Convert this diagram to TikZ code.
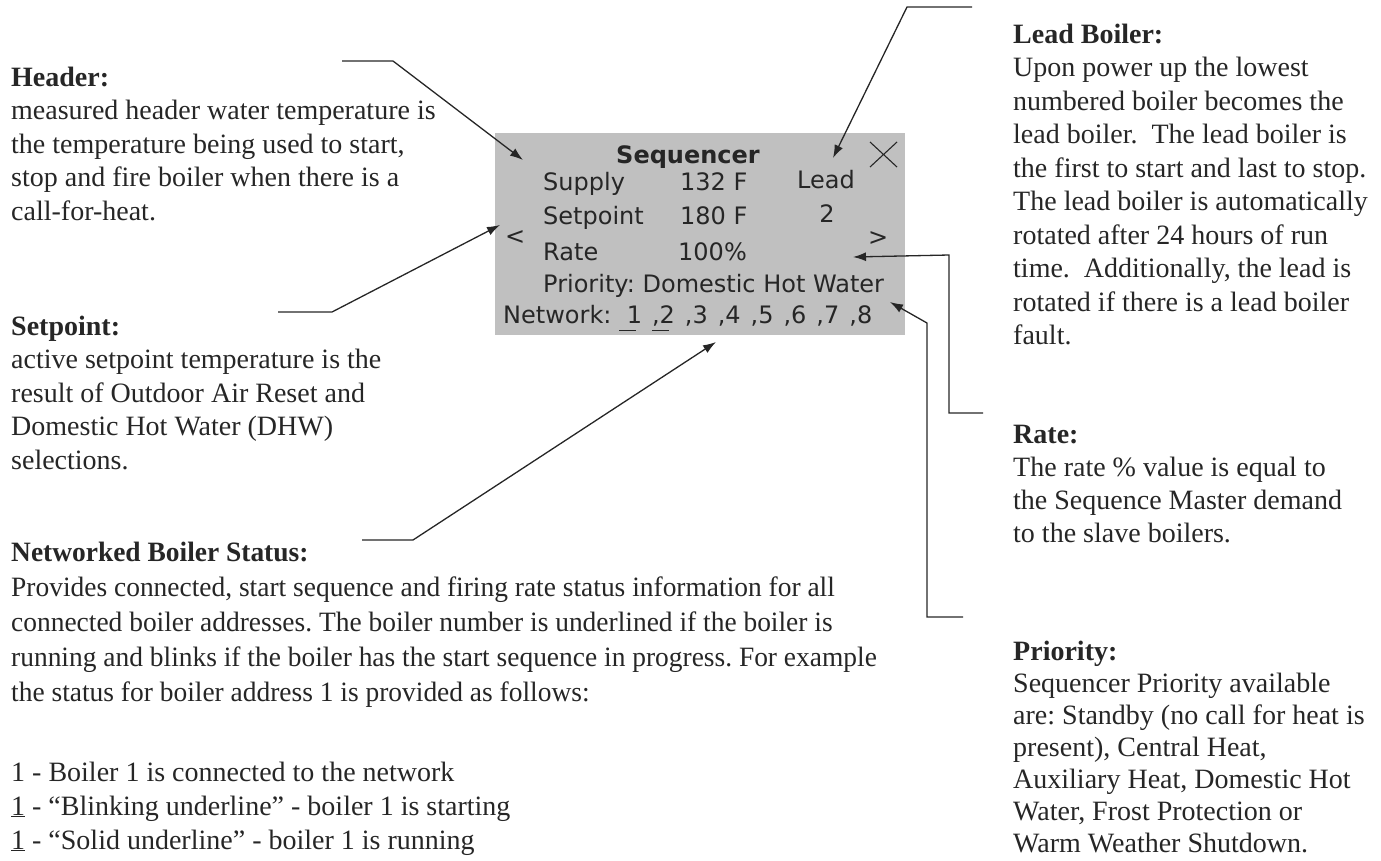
\documentclass[tikz,border=0pt]{standalone}
\usepackage{fontspec}
\setmainfont{Liberation Serif}
\newfontfamily\lcdfont{DejaVu Sans}
\newfontfamily\statusfont[FakeStretch=0.98]{Liberation Serif}
\usetikzlibrary{arrows.meta}
\definecolor{lcdgray}{HTML}{C0C0C0}
\definecolor{ink}{HTML}{262626}
\newcommand\lcdmark{\rlap{\rule[-8pt]{17pt}{1.5pt}}}
\newcommand\lcdgap{\hspace{10pt}}
\frenchspacing
\tikzset{
  note/.style={anchor=north west, inner sep=0pt, align=left, text=ink,
    font=\fontsize{28}{33.5}\selectfont},
  lcd/.style={anchor=base west, inner sep=0pt, text=ink,
    font=\lcdfont\fontsize{24}{28}\selectfont},
  callout/.style={draw=ink, line width=1.3pt, -{Latex[length=13pt,width=9pt]}},
}
\begin{document}
\begin{tikzpicture}[x=1pt,y=-1pt]
    \useasboundingbox (0,0) rectangle (1381,860);
    % Display panel
    \fill[lcdgray] (495,133) rectangle (905,335);
    \node[lcd, anchor=base, font=\lcdfont\bfseries\fontsize{24}{28}\selectfont] (title) at (688,163) {Sequencer};
    \node[lcd] (supply) at (543,190) {Supply};
    \node[lcd] (supplyval) at (680,190) {132 F};
    \node[lcd] (setpt) at (543,224) {Setpoint};
    \node[lcd] (setptval) at (680,224) {180 F};
    \node[lcd] (rate) at (543,260) {Rate};
    \node[lcd] (rateval) at (678,260) {100\%};
    \node[lcd] (prio) at (543,292) {Priority: Domestic Hot Water};
    \node[lcd] (net) at (503,323) {Network:\ \lcdmark\ 1\lcdgap\lcdmark,2\lcdgap,3\lcdgap,4\lcdgap,5\lcdgap,6\lcdgap,7\lcdgap,8};
    \node[lcd, anchor=base] (lead) at (826,188) {Lead};
    \node[lcd, anchor=base] (leadno) at (827,222) {2};
    \node[lcd] (prev) at (505,244) {<};
    \node[lcd] (next) at (868,245) {>};
    % Close button
    \draw[ink, line width=1.1pt] (870,142) -- (897,167) (870,167) -- (897,142);

    % Notes, left column
    \node[note] (header) at (11,62.5) {\strut\textbf{Header:}\\
      measured header water temperature is\\
      the temperature being used to start,\\
      stop and fire boiler when there is a\\
      call-for-heat.};
    \node[note] (setnote) at (11,311.5) {\strut\textbf{Setpoint:}\\
      active setpoint temperature is the\\
      result of Outdoor Air Reset and\\
      Domestic Hot Water (DHW)\\
      selections.};
    \node[note, font=\statusfont\fontsize{28}{35}\selectfont] (status) at (11,536.5) {\strut\textbf{Networked Boiler Status:}\\
      Provides connected, start sequence and firing rate status information for all\\
      connected boiler addresses. The boiler number is underlined if the boiler is\\
      running and blinks if the boiler has the start sequence in progress. For example\\
      the status for boiler address 1 is provided as follows:};
    \node[note, font=\fontsize{28}{34}\selectfont] (legend) at (11,757) {\strut 1 - Boiler 1 is connected to the network\\
      \underline{1} - “Blinking underline” - boiler 1 is starting\\
      \underline{1} - “Solid underline” - boiler 1 is running};

    % Notes, right column
    \node[note] (leadnote) at (1013,19.5) {\strut\textbf{Lead Boiler:}\\
      Upon power up the lowest\\
      numbered boiler becomes the\\
      lead boiler.~ The lead boiler is\\
      the first to start and last to stop.\\
      The lead boiler is automatically\\
      rotated after 24 hours of run\\
      time.~ Additionally, the lead is\\
      rotated if there is a lead boiler\\
      fault.};
    \node[note, font=\fontsize{28}{33}\selectfont] (ratenote) at (1013,420) {\strut\textbf{Rate:}\\
      The rate \% value is equal to\\
      the Sequence Master demand\\
      to the slave boilers.};
    \node[note, font=\fontsize{28}{32}\selectfont] (prionote) at (1013,637.6) {\strut\textbf{Priority:}\\
      Sequencer Priority available\\
      are: Standby (no call for heat is\\
      present), Central Heat,\\
      Auxiliary Heat, Domestic Hot\\
      Water, Frost Protection or\\
      Warm Weather Shutdown.};

    % Callouts
    \coordinate (hdr-a) at (342,61);
    \coordinate (hdr-b) at (393,61);
    \coordinate (hdr-tip) at (523,160);
    \draw[callout] (hdr-a) -- (hdr-b) -- (hdr-tip);
    \coordinate (set-a) at (278,312);
    \coordinate (set-b) at (332,312);
    \coordinate (set-tip) at (500,225);
    \draw[callout] (set-a) -- (set-b) -- (set-tip);
    \coordinate (net-a) at (362,540);
    \coordinate (net-b) at (413,540);
    \coordinate (net-tip) at (716,342);
    \draw[callout] (net-a) -- (net-b) -- (net-tip);
    \coordinate (lead-a) at (972,7);
    \coordinate (lead-b) at (907,7);
    \coordinate (lead-tip) at (833,158);
    \draw[callout] (lead-a) -- (lead-b) -- (lead-tip);
    \coordinate (rate-a) at (983,413);
    \coordinate (rate-b) at (949,413);
    \coordinate (rate-c) at (949,255);
    \coordinate (rate-tip) at (853,257);
    \draw[callout] (rate-a) -- (rate-b) -- (rate-c) -- (rate-tip);
    \coordinate (prio-a) at (963,617);
    \coordinate (prio-b) at (927,617);
    \coordinate (prio-c) at (927,323);
    \coordinate (prio-tip) at (890,302);
    \draw[callout] (prio-a) -- (prio-b) -- (prio-c) -- (prio-tip);
\end{tikzpicture}
\end{document}
